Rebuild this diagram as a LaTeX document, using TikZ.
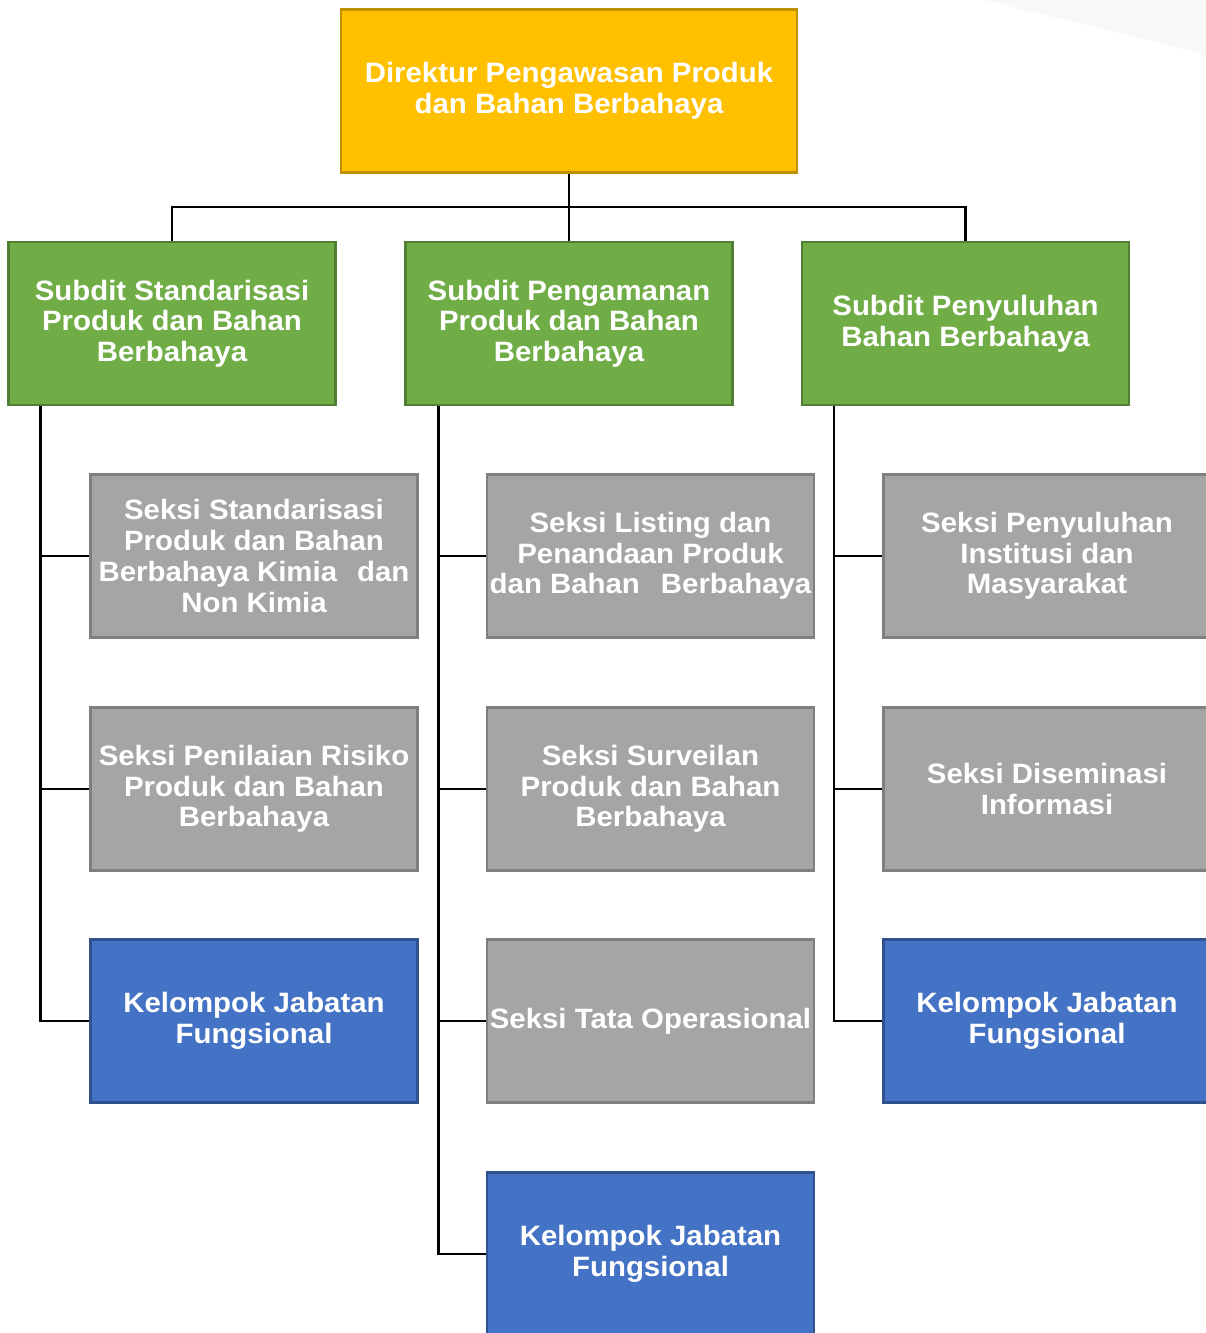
\documentclass[tikz,border=0pt]{standalone}
\usepackage{fontspec}
\setmainfont{Liberation Sans}[FakeStretch=1.05]
\definecolor{goldF}{HTML}{FFC000}
\definecolor{goldD}{HTML}{BF9000}
\definecolor{greenF}{HTML}{70AD47}
\definecolor{greenD}{HTML}{507E32}
\definecolor{grayF}{HTML}{A5A5A5}
\definecolor{grayD}{HTML}{7F7F7F}
\definecolor{blueF}{HTML}{4472C4}
\definecolor{blueD}{HTML}{2F528F}
\definecolor{faint}{HTML}{F8F8F8}
\begin{document}
\begin{tikzpicture}[x=1pt,y=-1pt,
  box/.style={draw, line width=2.2pt, minimum width=327pt, minimum height=163pt, inner sep=0pt,
    align=center, text=white, font=\fontsize{28}{30.7}\selectfont\bfseries},
  topbox/.style={box, fill=goldF, draw=goldD, minimum width=456pt},
  subbox/.style={box, fill=greenF, draw=greenD},
  secbox/.style={box, fill=grayF, draw=grayD},
  funbox/.style={box, fill=blueF, draw=blueD},
  conn/.style={draw=black, line width=2.6pt}]
\useasboundingbox (0,0) rectangle (1206,1333);
\clip (0,0) rectangle (1206,1333);
\fill[faint] (985,0) .. controls (1080,25) and (1150,38) .. (1206,56) -- (1206,0) -- cycle;

\node[topbox] (top) at (569,91) {Direktur Pengawasan Produk\\dan Bahan Berbahaya};

\node[subbox] (s1) at (172,323.5) {Subdit Standarisasi\\Produk dan Bahan\\Berbahaya};
\node[subbox] (s2) at (569,323.5) {Subdit Pengamanan\\Produk dan Bahan\\Berbahaya};
\node[subbox] (s3) at (965.5,323.5) {Subdit Penyuluhan\\Bahan Berbahaya};

\node[secbox] (a1) at (254,556) {Seksi Standarisasi\\Produk dan Bahan\\Berbahaya Kimia\hspace{20pt}dan\\Non Kimia};
\node[secbox] (a2) at (254,789) {Seksi Penilaian Risiko\\Produk dan Bahan\\Berbahaya};
\node[funbox] (a3) at (254,1021) {Kelompok Jabatan\\Fungsional};

\node[secbox] (b1) at (650.5,556) {Seksi Listing dan\\Penandaan Produk\\dan Bahan\hspace{21pt}Berbahaya};
\node[secbox] (b2) at (650.5,789) {Seksi Surveilan\\Produk dan Bahan\\Berbahaya};
\node[secbox] (b3) at (650.5,1021) {Seksi Tata Operasional};
\node[funbox] (b4) at (650.5,1254) {Kelompok Jabatan\\Fungsional};

\node[secbox] (c1) at (1047,556) {Seksi Penyuluhan\\Institusi dan\\Masyarakat};
\node[secbox] (c2) at (1047,789) {Seksi Diseminasi\\Informasi};
\node[funbox] (c3) at (1047,1021) {Kelompok Jabatan\\Fungsional};

\coordinate (bus) at (569,207);
\draw[conn] (top.south) -- (s2.north);
\draw[conn] (s1.north) |- (bus) -| (s3.north);

\draw[conn] ([xshift=33pt]s1.south west) |- (a3.west);
\draw[conn] ([xshift=33pt]s1.south west) |- (a1.west);
\draw[conn] ([xshift=33pt]s1.south west) |- (a2.west);

\draw[conn] ([xshift=34pt]s2.south west) |- (b4.west);
\draw[conn] ([xshift=34pt]s2.south west) |- (b1.west);
\draw[conn] ([xshift=34pt]s2.south west) |- (b2.west);
\draw[conn] ([xshift=34pt]s2.south west) |- (b3.west);

\draw[conn] ([xshift=33pt]s3.south west) |- (c3.west);
\draw[conn] ([xshift=33pt]s3.south west) |- (c1.west);
\draw[conn] ([xshift=33pt]s3.south west) |- (c2.west);
\end{tikzpicture}
\end{document}
